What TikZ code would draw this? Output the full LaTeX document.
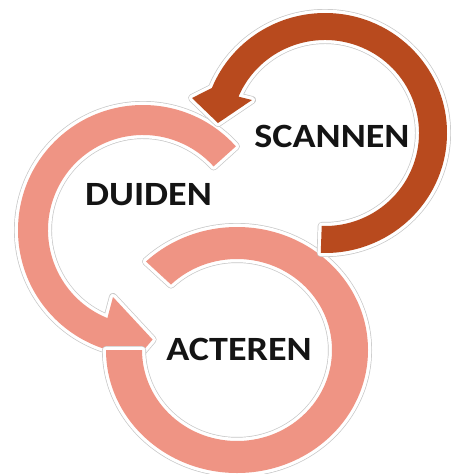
\documentclass[tikz,border=0pt]{standalone}
\usepackage{fontspec}
\setmainfont{Carlito}
\usetikzlibrary{calc}
\definecolor{rust}{RGB}{184,74,30}
\definecolor{salmon}{RGB}{239,148,132}
\definecolor{lblink}{RGB}{20,20,20}
\begin{document}
\begin{tikzpicture}[x=1pt,y=-1pt,
  halogray/.style={draw=black!22, line width=8pt, line join=round},
  halowhite/.style={draw=white, line width=6.6pt, line join=round},
  lbl/.style={font=\fontsize{34}{40}\selectfont\bfseries, text=lblink, inner sep=0pt, anchor=base, xscale=1.12}]
\fill[white] (0,0) rectangle (454,474);
\useasboundingbox (0,0) rectangle (454,474);
% centres
\coordinate (cd) at (143,230);
\coordinate (ca) at (237,350);
\coordinate (cs) at (325,133);
% path definitions
\def\duidenpath{($(cd)+(-42:125)$) arc[start angle=-42, end angle=-252, radius=125]
  -- (125,372) -- ($(cd)+(-275:110)$) -- (113,297)
  -- ($(cd)+(-248:95)$) arc[start angle=-248, end angle=-42, radius=95] -- cycle}
\def\acterenpath{($(ca)+(180:131 and 123)$) arc[start angle=180, end angle=-134, x radius=131, y radius=123]
  -- ($(ca)+(-134:95 and 91)$) arc[start angle=-134, end angle=180, x radius=95, y radius=91] -- cycle}
\def\scannenpath{($(cs)+(92:122 and 120)$) arc[start angle=92, end angle=-158, x radius=122, y radius=120]
  -- (192,98) -- (218,123) -- (252,100)
  -- ($(cs)+(-157:94 and 93)$) arc[start angle=-157, end angle=92, x radius=94, y radius=93] -- cycle}
% DUIDEN arrow
\draw[halogray] \duidenpath;
\draw[halowhite] \duidenpath;
\fill[salmon] \duidenpath;
% ACTEREN ring
\draw[halogray] \acterenpath;
\draw[halowhite] \acterenpath;
\fill[salmon] \acterenpath;
% SCANNEN arrow
\draw[halogray] \scannenpath;
\draw[halowhite] \scannenpath;
\fill[rust] \scannenpath;
% labels
\node[lbl] (scan) at (332,147) {SCANNEN};
\node[lbl] (duid) at (148.5,205) {DUIDEN};
\node[lbl] (act) at (239,360) {ACTEREN};
\end{tikzpicture}
\end{document}
